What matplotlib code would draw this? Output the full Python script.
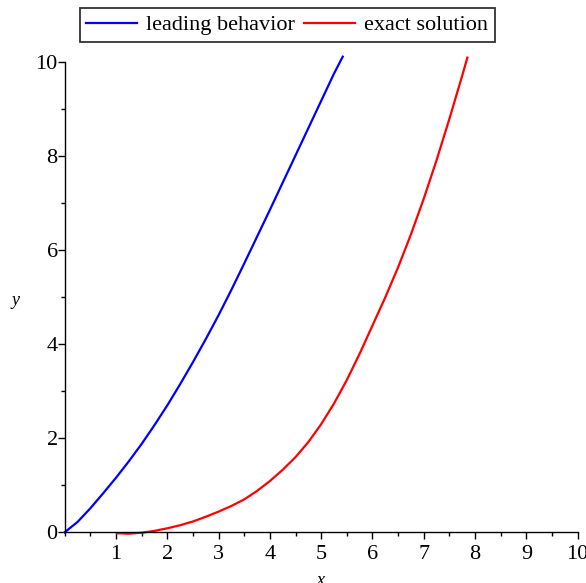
import matplotlib
matplotlib.use("Agg")
import matplotlib.pyplot as plt
from matplotlib.ticker import MultipleLocator

# values
lead_x = [0.0, 0.25, 0.5, 0.75, 1.0, 1.25, 1.5, 1.75, 2.0, 2.25, 2.5, 2.75, 3.0,
          3.25, 3.5, 3.75, 4.0, 4.25, 4.5, 4.75, 5.0, 5.25, 5.42]
lead_y = [0.0, 0.22, 0.51, 0.83, 1.16, 1.51, 1.88, 2.28, 2.70, 3.15, 3.62, 4.11, 4.62,
          5.16, 5.72, 6.29, 6.86, 7.44, 8.02, 8.60, 9.18, 9.76, 10.12]

exact_x = [1.02, 1.25, 1.5, 1.75, 2.0, 2.25, 2.5, 2.75, 3.0, 3.25, 3.5, 3.75, 4.0,
           4.25, 4.5, 4.75, 5.0, 5.25, 5.5, 5.75, 6.0, 6.25, 6.5, 6.75, 7.0, 7.25,
           7.5, 7.75, 7.85]
exact_y = [-0.02, -0.03, -0.01, 0.03, 0.085, 0.15, 0.23, 0.33, 0.44, 0.56, 0.70, 0.88,
           1.09, 1.33, 1.60, 1.92, 2.30, 2.74, 3.24, 3.80, 4.40, 5.00, 5.64, 6.34,
           7.10, 7.92, 8.80, 9.72, 10.1]

x_ticks = [1, 2, 3, 4, 5, 6, 7, 8, 9, 10]
y_ticks = [0, 2, 4, 6, 8, 10]

plt.rcParams['font.family'] = ['Liberation Serif', 'DejaVu Serif']

fig = plt.figure(figsize=(5.86, 5.83), dpi=100)
ax = fig.add_axes([0.1104, 0.087, 0.8754, 0.8142])

ax.plot(lead_x, lead_y, color='#0000ff', lw=1.6, label='leading behavior',
        clip_on=False)
ax.plot(exact_x, exact_y, color='#ff0000', lw=1.6, label='exact solution',
        clip_on=False)

ax.set_xlim(0, 10)
ax.set_ylim(0, 10.1)

for s in ['top', 'right']:
    ax.spines[s].set_visible(False)
ax.spines['left'].set_bounds(0, 10)
ax.spines['left'].set_linewidth(1)
ax.spines['bottom'].set_linewidth(1)

ax.set_xticks(x_ticks)
ax.set_yticks(y_ticks)
ax.xaxis.set_minor_locator(MultipleLocator(0.5))
ax.yaxis.set_minor_locator(MultipleLocator(1))
ax.tick_params(axis='both', which='major', direction='out', length=5, width=1,
               labelsize=16, colors='black')
ax.tick_params(axis='both', which='minor', direction='out', length=3, width=1)
ax.tick_params(axis='y', pad=0)
ax.tick_params(axis='x', pad=4)

fig.text(0.0256, 0.485, 'y', fontsize=13, style='italic', ha='center', va='center')
fig.text(0.546, 0.004, 'x', fontsize=13, style='italic', ha='center', va='center')

leg = fig.legend(loc='center', bbox_to_anchor=(0.49, 0.957), ncol=2, fontsize=16,
                 frameon=True, fancybox=False, edgecolor='black', handlelength=2.3,
                 handletextpad=0.4, columnspacing=0.4, borderpad=0.3,
                 borderaxespad=0)
leg.get_frame().set_linewidth(1.3)

fig.savefig('out.png', dpi=100)
